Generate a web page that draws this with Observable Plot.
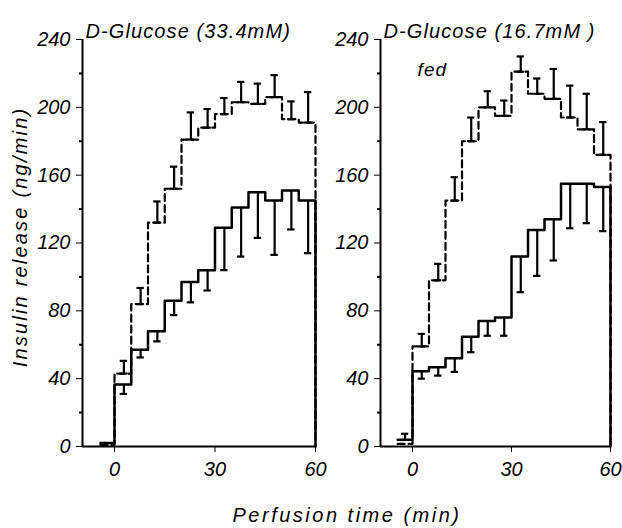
<!DOCTYPE html>
<html>
<head>
<meta charset="utf-8">
<script src="https://cdn.jsdelivr.net/npm/d3@7"></script>
<script src="https://cdn.jsdelivr.net/npm/@observablehq/plot@0.6"></script>
<style>
  body { margin: 0; background: #fff; }
  #wrap { position: relative; width: 622px; height: 528px; overflow: hidden;
          font-family: "Liberation Sans", Arial, sans-serif; font-style: italic; color: #000; }
  #wrap svg { position: absolute; top: 0; }
  .lbl { position: absolute; white-space: nowrap; font-size: 20px; line-height: 20px; text-align: center; }
  .plot g[aria-label$="axis tick"], .plot .tick line { stroke-width: 2px; }
</style>
</head>
<body>
<div id="wrap"></div>
<script>
// ---- data ----
const times = [0, 5, 10, 15, 20, 25, 30, 35, 40, 45, 50, 55];   // start of each 5-min fraction
const endTime = 60;
const xTicks = [0, 30, 60];
const yTicks = [0, 40, 80, 120, 160, 200, 240];
const yMinorTicks = [20, 60, 100, 140, 180, 220];

const titles = ["D-Glucose (33.4mM)", "D-Glucose (16.7mM )"];
const noteText = "fed";
const yLabelText = "Insulin release (ng/min)";
const xLabelText = "Perfusion time (min)";

// left panel: 33.4 mM
const leftPreTime = -4.2;
const leftSolidBase = 2;
const leftDashedBase = 1;
const leftSolid   = [36.5, 57, 68, 86, 97, 104, 129, 141, 150, 145, 151, 145];
const leftSolidSE = [5.5, 4.5, 6, 8.5, 12, 12, 25, 29, 27, 32, 23, 31];
const leftDashed   = [43, 84, 132, 152, 181, 188, 196, 203, 202, 206, 193, 191];
const leftDashedSE = [7.5, 9.5, 12.5, 13, 16, 11, 9.5, 12, 12, 13, 10.5, 18];

// right panel: 16.7 mM, fed
const rightPreTime = -4.5;
const rightSolidBase = 4;
const rightSolidBaseSE = 3.5;
const rightDashedBase = 1.5;
const rightSolid   = [44.4, 46.7, 52, 64.7, 74, 76, 112, 127.6, 134, 155, 155, 153];
const rightSolidSE = [4.4, 4.9, 8, 9.1, 8.7, 10.7, 21, 27, 24.3, 26.3, 23.3, 26];
const rightDashed   = [59, 98, 145, 180, 200, 195, 221, 208, 205, 194, 187, 172];
const rightDashedSE = [7.4, 9.7, 13.8, 14, 9.5, 9, 9, 9, 17.6, 18.8, 21, 19.3];

// ---- drawing ----
const errOffset = 2.8;  // error bars drawn a little past mid-fraction
const capHalf = 1.1;    // half-width of error-bar caps (min)
const FONT = "'Liberation Sans', Arial, sans-serif";

function stepData(pre, base, levels) {
  const pts = [{t: pre, v: base}];
  times.forEach((t, i) => pts.push({t, v: levels[i]}));
  pts.push({t: endTime, v: levels[levels.length - 1]});
  pts.push({t: endTime, v: 0});
  return pts;
}
function errData(levels, se, dir) {
  return times.map((t, i) => ({t: t + errOffset, y1: levels[i], y2: levels[i] + dir * se[i]}));
}

function panel(o) {
  const solid = stepData(o.pre, o.solidBase, o.solid);
  const dashed = stepData(o.pre, o.dashedBase, o.dashed);
  const solidErr = errData(o.solid, o.solidSE, -1);
  if (o.solidBaseSE) solidErr.push({t: o.pre / 2, y1: o.solidBase, y2: o.solidBase + o.solidBaseSE});
  const dashedErr = errData(o.dashed, o.dashedSE, +1);
  const marks = [
    Plot.ruleY([0], {strokeWidth: 2}),
    Plot.ruleX([o.xMin], {strokeWidth: 2}),
    Plot.ruleY(yMinorTicks, {x1: o.xMin - 0.9, x2: o.xMin, strokeWidth: 2}),
    Plot.line(dashed, {x: "t", y: "v", curve: "step-after", stroke: "black", strokeWidth: 2.2, strokeDasharray: "7,4"}),
    Plot.line(solid, {x: "t", y: "v", curve: "step-after", stroke: "black", strokeWidth: 2.5}),
    Plot.ruleX(solidErr, {x: "t", y1: "y1", y2: "y2", strokeWidth: 2.2}),
    Plot.ruleY(solidErr, {y: "y2", x1: d => d.t - capHalf, x2: d => d.t + capHalf, strokeWidth: 2.2}),
    Plot.ruleX(dashedErr, {x: "t", y1: "y1", y2: "y2", strokeWidth: 2.2}),
    Plot.ruleY(dashedErr, {y: "y1", x1: d => d.t - capHalf, x2: d => d.t + capHalf, strokeWidth: 2.2}),
    Plot.ruleY(dashedErr, {y: "y2", x1: d => d.t - capHalf, x2: d => d.t + capHalf, strokeWidth: 2.2}),
    Plot.text([o.title], {frameAnchor: "top-left", textAnchor: "start", dx: 3, dy: -15.4,
                          fontSize: 20, fontStyle: "italic", fill: "black"})
  ];
  if (o.note) marks.push(Plot.text([o.note], {frameAnchor: "top-left", textAnchor: "start", dx: 37, dy: 22.6,
                          fontSize: 19, fontStyle: "italic", fill: "black"}));
  const svg = Plot.plot({
    width: o.width, height: 490,
    marginLeft: o.marginLeft, marginRight: o.marginRight, marginTop: 39, marginBottom: 44,
    style: {fontFamily: FONT, fontStyle: "italic", fontSize: "20px", background: "transparent", color: "black", overflow: "visible"},
    x: {domain: [o.xMin, endTime], ticks: xTicks, tickSize: 6, tickPadding: 9, label: null},
    y: {domain: [0, 240], ticks: yTicks, tickSize: 6, tickPadding: 6, label: null},
    marks
  });
  d3.select(svg).selectAll('g[aria-label="text"] text').attr("letter-spacing", 1.1);
  svg.style.left = o.left + "px";
  return svg;
}

const wrap = document.getElementById("wrap");
wrap.appendChild(panel({
  left: 0, width: 322, marginLeft: 82, marginRight: 7, xMin: -9.55,
  pre: leftPreTime, solidBase: leftSolidBase, dashedBase: leftDashedBase,
  solid: leftSolid, solidSE: leftSolidSE, dashed: leftDashed, dashedSE: leftDashedSE,
  title: titles[0]
}));
wrap.appendChild(panel({
  left: 322, width: 300, marginLeft: 58, marginRight: 12, xMin: -9.7,
  pre: rightPreTime, solidBase: rightSolidBase, solidBaseSE: rightSolidBaseSE, dashedBase: rightDashedBase,
  solid: rightSolid, solidSE: rightSolidSE, dashed: rightDashed, dashedSE: rightDashedSE,
  title: titles[1], note: noteText
}));

const yl = document.createElement("div");
yl.className = "lbl";
yl.textContent = yLabelText;
Object.assign(yl.style, {width: "320px", left: (20 - 160) + "px", top: (237 - 10) + "px",
  transform: "rotate(-90deg)", letterSpacing: "2.2px"});
wrap.appendChild(yl);

const xl = document.createElement("div");
xl.className = "lbl";
xl.textContent = xLabelText;
Object.assign(xl.style, {width: "320px", left: (347 - 160) + "px", top: "505px", letterSpacing: "2.5px"});
wrap.appendChild(xl);
</script>
</body>
</html>
